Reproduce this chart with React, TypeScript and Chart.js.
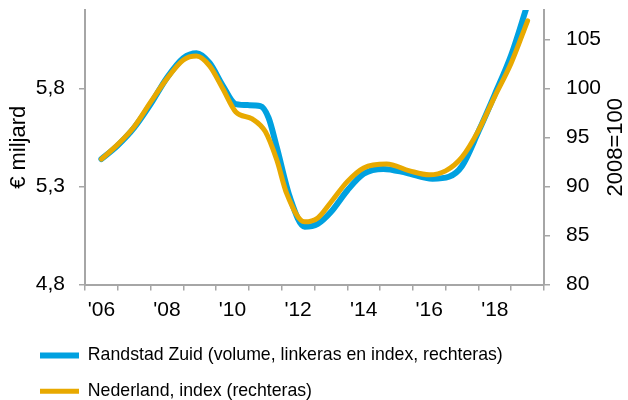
import React, { useEffect, useRef } from 'react';
import { Chart, registerables } from 'chart.js';

Chart.register(...registerables);

// ---- data ----
const xTickLabels = ["'06", "'07", "'08", "'09", "'10", "'11", "'12", "'13", "'14", "'15", "'16", "'17", "'18", "'19"];
const leftTicks = [4.8, 5.3, 5.8];
const rightTicks = [80, 85, 90, 95, 100, 105];
const leftTitle = '€ miljard';
const rightTitle = '2008=100';
const randstadLabel = 'Randstad Zuid (volume, linkeras en index, rechteras)';
const nederlandLabel = 'Nederland, index (rechteras)';

// Randstad Zuid volume (€ miljard, left axis)
const randstadYears = [2006.0, 2006.5, 2007.0, 2007.5, 2008.0, 2008.5, 2008.9, 2009.3, 2009.7, 2010.1, 2010.5, 2010.85, 2011.1, 2011.35, 2011.75, 2012.2, 2012.6, 2013.0, 2013.5, 2014.0, 2014.6, 2015.3, 2016.1, 2016.6, 2017.0, 2017.5, 2018.0, 2018.5, 2019.0];
const randstadVolume = [5.44, 5.51, 5.60, 5.72, 5.855, 5.955, 5.98, 5.93, 5.815, 5.72, 5.715, 5.71, 5.65, 5.50, 5.245, 5.095, 5.11, 5.17, 5.28, 5.365, 5.39, 5.37, 5.34, 5.35, 5.405, 5.58, 5.77, 5.97, 6.23];

// Nederland index (2008=100, right axis)
const nederlandYears = [2006.0, 2006.5, 2007.0, 2007.5, 2008.0, 2008.5, 2008.9, 2009.3, 2009.7, 2010.1, 2010.6, 2011.0, 2011.35, 2011.65, 2012.2, 2012.6, 2013.0, 2013.5, 2014.0, 2014.7, 2015.4, 2016.0, 2016.5, 2017.0, 2017.5, 2018.0, 2018.5, 2019.0];
const nederlandIndex = [92.8, 94.3, 96.1, 98.6, 101.0, 102.9, 103.3, 102.3, 100.0, 97.6, 96.9, 95.6, 92.7, 89.3, 86.4, 86.8, 88.4, 90.5, 91.9, 92.3, 91.6, 91.2, 91.6, 93.0, 95.7, 99.2, 102.6, 106.9];

const BLUE = '#00a1e0';
const YELLOW = '#e8a900';
const GRAY = '#a6a6a6';
const FONT = "'Liberation Sans', Arial, Helvetica, sans-serif";

export default function App() {
  const ref = useRef<HTMLCanvasElement>(null);

  useEffect(() => {
    if (!ref.current) return;

    const titlesPlugin = {
      id: 'axisTitles',
      afterDraw(chart: any) {
        const { ctx, chartArea } = chart;
        const cy = (chartArea.top + chartArea.bottom) / 2;
        ctx.save();
        ctx.font = `22px ${FONT}`;
        ctx.fillStyle = '#000';
        ctx.textAlign = 'center';
        ctx.textBaseline = 'middle';
        const items: [string, number][] = [
          [leftTitle, chartArea.left - 66],
          [rightTitle, chartArea.right + 72],
        ];
        items.forEach(([t, x]) => {
          ctx.save();
          ctx.translate(x, cy);
          ctx.rotate(-Math.PI / 2);
          ctx.fillText(t, 0, 0);
          ctx.restore();
        });
        ctx.restore();
      },
    };

    const tickFont = { size: 21, family: FONT };

    const chart = new Chart(ref.current, {
      type: 'line',
      data: {
        labels: xTickLabels,
        datasets: [
          {
            label: randstadLabel,
            data: randstadYears.map((x, i) => ({ x, y: randstadVolume[i] })),
            xAxisID: 'xd',
            yAxisID: 'y',
            borderColor: BLUE,
            backgroundColor: BLUE,
            borderWidth: 6,
            pointRadius: 0,
            cubicInterpolationMode: 'monotone',
            borderCapStyle: 'round',
            borderJoinStyle: 'round',
            clip: 0,
            order: 2,
          } as any,
          {
            label: nederlandLabel,
            data: nederlandYears.map((x, i) => ({ x, y: nederlandIndex[i] })),
            xAxisID: 'xd',
            yAxisID: 'y1',
            borderColor: YELLOW,
            backgroundColor: YELLOW,
            borderWidth: 5,
            pointRadius: 0,
            cubicInterpolationMode: 'monotone',
            borderCapStyle: 'round',
            borderJoinStyle: 'round',
            order: 1,
          } as any,
        ],
      },
      options: {
        responsive: false,
        animation: false,
        layout: { padding: { left: 22, top: 10, right: 0, bottom: 0 } },
        plugins: {
          tooltip: { enabled: false },
          legend: {
            display: true,
            position: 'bottom',
            align: 'start',
            labels: {
              usePointStyle: true,
              pointStyle: 'line',
              pointStyleWidth: 39,
              padding: 18,
              color: '#000',
              font: { size: 17.7, family: FONT },
              sort: (a: any, b: any) => a.datasetIndex - b.datasetIndex,
            },
          },
        },
        scales: {
          x: {
            type: 'category',
            position: 'bottom',
            offset: true,
            grid: {
              offset: true,
              drawOnChartArea: false,
              drawTicks: true,
              tickLength: 6,
              color: GRAY,
              lineWidth: 1.5,
            },
            border: { display: true, color: GRAY, width: 2 },
            ticks: {
              autoSkip: false,
              maxRotation: 0,
              minRotation: 0,
              padding: 7,
              color: '#000',
              font: tickFont,
              callback: (_v: any, i: number) => (i % 2 === 0 ? xTickLabels[i] : ''),
            },
            afterFit: (s: any) => {
              s.height = 44;
              s.paddingLeft = 0;
              s.paddingRight = 0;
            },
          },
          xd: {
            type: 'linear',
            display: false,
            min: 2005.5,
            max: 2019.5,
          },
          y: {
            type: 'linear',
            position: 'left',
            min: 4.8,
            max: 6.2,
            grid: { drawOnChartArea: false, drawTicks: true, tickLength: 6, color: GRAY, lineWidth: 1.5 },
            border: { display: true, color: GRAY, width: 2 },
            afterBuildTicks: (s: any) => {
              s.ticks = leftTicks.map((v) => ({ value: v }));
            },
            ticks: {
              padding: 14,
              color: '#000',
              font: tickFont,
              callback: (v: any) => Number(v).toFixed(1).replace('.', ','),
            },
            afterFit: (s: any) => {
              s.width = 63;
              s.paddingTop = 0;
              s.paddingBottom = 0;
            },
          },
          y1: {
            type: 'linear',
            position: 'right',
            min: 80,
            max: 108,
            grid: { drawOnChartArea: false, drawTicks: true, tickLength: 6, color: GRAY, lineWidth: 1.5 },
            border: { display: true, color: GRAY, width: 2 },
            afterBuildTicks: (s: any) => {
              s.ticks = rightTicks.map((v) => ({ value: v }));
            },
            ticks: {
              padding: 16,
              color: '#000',
              font: tickFont,
              callback: (v: any) => String(v),
            },
            afterFit: (s: any) => {
              s.width = 84;
              s.paddingTop = 0;
              s.paddingBottom = 0;
            },
          },
        },
      } as any,
      plugins: [titlesPlugin],
    });

    return () => chart.destroy();
  }, []);

  return (
    <div
      style={{
        position: 'fixed',
        left: 0,
        top: 0,
        width: 628,
        height: 400,
        overflow: 'hidden',
        background: '#fff',
      }}
    >
      <canvas ref={ref} width={628} height={410} style={{ display: 'block' }} />
    </div>
  );
}
